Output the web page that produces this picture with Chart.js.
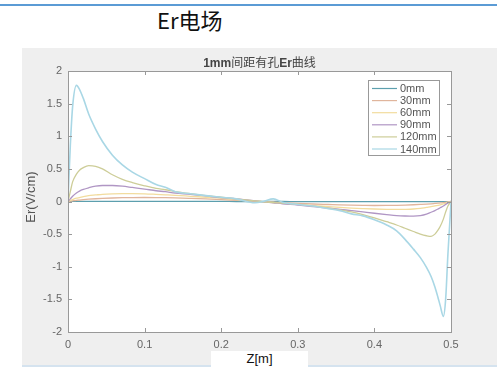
<!DOCTYPE html>
<html>
<head>
<meta charset="utf-8">
<script src="https://cdn.jsdelivr.net/npm/chart.js@4.4.0/dist/chart.umd.min.js"></script>
<style>
  body { margin: 0; width: 497px; height: 367px; background: #fff; position: relative; overflow: hidden; }
  #topline { position: absolute; left: 0; top: 4px; width: 497px; height: 2px; background: #5b9bd5; }
  #heading { position: absolute; left: 157px; top: 5px; font: 22px "Noto Sans CJK SC", sans-serif; color: #111; line-height: 28px; }
  #figure { position: absolute; left: 22px; top: 48px; width: 475px; height: 317px; background: #efefef; }
  #bottomline { position: absolute; left: 22px; top: 365px; width: 475px; height: 2px; background: #d5e3ef; }
  #wrap { position: absolute; left: 0; top: 0; width: 497px; height: 367px; }
  #xlabel { position: absolute; left: 211px; top: 351px; width: 97px; height: 16px; background: #fff;
            font: 13px "Liberation Sans", sans-serif; text-align: center; line-height: 16px; color: #111; }
</style>
</head>
<body>
<div id="topline"></div>
<div id="heading">Er电场</div>
<div id="figure"></div>
<div id="bottomline"></div>
<div id="wrap"><canvas id="erChart" width="497" height="367"></canvas></div>
<div id="xlabel">Z[m]</div>

<script>
// sample positions along z (m)
const zPos = [0, 0.003, 0.006, 0.011, 0.015, 0.02, 0.027, 0.036, 0.045, 0.058,
  0.071, 0.084, 0.1, 0.115, 0.127, 0.14, 0.16, 0.18, 0.2, 0.22,
  0.244, 0.255, 0.268, 0.28, 0.3, 0.32, 0.34, 0.355, 0.37, 0.385,
  0.4, 0.416, 0.429, 0.44, 0.451, 0.46, 0.468, 0.474, 0.479, 0.483,
  0.486, 0.49, 0.493, 0.496, 0.5];

// Er (V/cm) for each hole offset
const er0 = [0, 0.002, 0.003, 0.003, 0.003, 0.003, 0.003, 0.003, 0.003, 0.003,
  0.003, 0.002, 0.002, 0.002, 0.002, 0.001, 0.001, 0.001, 0.001, 0,
  0, 0, 0, 0, -0.001, -0.001, -0.001, -0.001, -0.002, -0.002,
  -0.002, -0.002, -0.002, -0.003, -0.003, -0.003, -0.003, -0.003, -0.003, -0.003,
  -0.003, -0.003, -0.003, -0.002, 0];
const er30 = [0, 0.005, 0.01, 0.018, 0.022, 0.028, 0.035, 0.042, 0.048, 0.054,
  0.058, 0.06, 0.061, 0.06, 0.058, 0.055, 0.048, 0.04, 0.03, 0.018,
  0.004, -0.003, -0.01, -0.017, -0.028, -0.038, -0.046, -0.052, -0.056, -0.059,
  -0.061, -0.06, -0.058, -0.055, -0.05, -0.045, -0.04, -0.035, -0.03, -0.026,
  -0.022, -0.017, -0.012, -0.007, 0];
const er60 = [0, 0.015, 0.03, 0.05, 0.06, 0.075, 0.09, 0.1, 0.11, 0.118,
  0.122, 0.122, 0.118, 0.11, 0.103, 0.095, 0.08, 0.065, 0.05, 0.03,
  0.008, -0.004, -0.015, -0.028, -0.045, -0.062, -0.078, -0.09, -0.1, -0.108,
  -0.115, -0.12, -0.122, -0.12, -0.115, -0.105, -0.09, -0.08, -0.068, -0.058,
  -0.05, -0.038, -0.028, -0.015, 0];
const er90 = [0, 0.04, 0.08, 0.13, 0.16, 0.185, 0.21, 0.235, 0.245, 0.245,
  0.235, 0.215, 0.19, 0.165, 0.15, 0.13, 0.11, 0.085, 0.06, 0.04,
  0.01, -0.005, -0.02, -0.035, -0.055, -0.08, -0.1, -0.12, -0.14, -0.16,
  -0.18, -0.2, -0.215, -0.222, -0.225, -0.218, -0.195, -0.165, -0.14, -0.115,
  -0.095, -0.07, -0.045, -0.025, 0];
const er120 = [0, 0.15, 0.3, 0.42, 0.48, 0.52, 0.55, 0.54, 0.5, 0.41,
  0.34, 0.29, 0.24, 0.2, 0.18, 0.15, 0.12, 0.09, 0.065, 0.04,
  0.01, -0.005, -0.015, -0.025, -0.045, -0.07, -0.1, -0.13, -0.16, -0.2,
  -0.25, -0.31, -0.36, -0.41, -0.46, -0.5, -0.525, -0.535, -0.5, -0.44,
  -0.38, -0.27, -0.16, -0.07, 0];
const er140 = [0.02, 0.85, 1.45, 1.78, 1.72, 1.58, 1.34, 1.11, 0.92, 0.71,
  0.56, 0.45, 0.35, 0.26, 0.22, 0.15, 0.12, 0.09, 0.065, 0.04,
  -0.02, 0, 0.04, -0.01, -0.045, -0.07, -0.11, -0.14, -0.19, -0.22,
  -0.28, -0.36, -0.45, -0.58, -0.73, -0.86, -1.01, -1.15, -1.31, -1.47,
  -1.6, -1.76, -1.5, -0.8, -0.02];

const seriesNames = ['0mm', '30mm', '60mm', '90mm', '120mm', '140mm'];
const seriesValues = [er0, er30, er60, er90, er120, er140];
const seriesColors = ['#5c9fae', '#e0b59c', '#f2dc9e', '#b096c4', '#cdcd98', '#a9d7e5'];

const xTickLabels = ['0', '0.1', '0.2', '0.3', '0.4', '0.5'];
const yTickLabels = ['-2', '-1.5', '-1', '-0.5', '0', '0.5', '1', '1.5', '2'];

const labelFont = '"Liberation Sans", Arial, sans-serif';

// white plot area, box with inward ticks, title, y label and legend
const figureDecor = {
  id: 'figureDecor',
  beforeDraw(chart) {
    const a = chart.chartArea, ctx = chart.ctx;
    ctx.save();
    ctx.fillStyle = '#ffffff';
    ctx.fillRect(a.left, a.top, a.right - a.left, a.bottom - a.top);
    ctx.restore();
  },
  afterDatasetsDraw(chart) {
    const a = chart.chartArea, ctx = chart.ctx;
    const xs = chart.scales.x, ys = chart.scales.y;
    ctx.save();
    ctx.strokeStyle = '#999';
    ctx.lineWidth = 1;
    ctx.strokeRect(Math.round(a.left) + 0.5, Math.round(a.top) + 0.5,
      Math.round(a.right - a.left), Math.round(a.bottom - a.top));

    const tl = 4;
    ctx.beginPath();
    xs.ticks.forEach(t => {
      const px = Math.round(xs.getPixelForValue(t.value)) + 0.5;
      ctx.moveTo(px, a.bottom); ctx.lineTo(px, a.bottom - tl);
      ctx.moveTo(px, a.top); ctx.lineTo(px, a.top + tl);
    });
    ys.ticks.forEach(t => {
      const py = Math.round(ys.getPixelForValue(t.value)) + 0.5;
      ctx.moveTo(a.left, py); ctx.lineTo(a.left + tl, py);
      ctx.moveTo(a.right, py); ctx.lineTo(a.right - tl, py);
    });
    ctx.stroke();

    // title, mixed weights
    const parts = [['1mm', 'bold'], ['间距有孔', 'normal'], ['Er', 'bold'], ['曲线', 'normal']];
    ctx.fillStyle = '#444';
    ctx.textBaseline = 'middle';
    ctx.textAlign = 'left';
    let total = 0;
    parts.forEach(p => {
      ctx.font = p[1] + ' 12px ' + labelFont + ', "Noto Sans CJK SC"';
      total += ctx.measureText(p[0]).width;
    });
    let tx = (a.left + a.right) / 2 - total / 2;
    parts.forEach(p => {
      ctx.font = p[1] + ' 12px ' + labelFont + ', "Noto Sans CJK SC"';
      ctx.fillText(p[0], tx, 64);
      tx += ctx.measureText(p[0]).width;
    });

    // y axis label
    ctx.save();
    ctx.translate(31, 197);
    ctx.rotate(-Math.PI / 2);
    ctx.textAlign = 'center';
    ctx.fillStyle = '#555';
    ctx.font = '13px ' + labelFont;
    ctx.fillText('Er(V/cm)', 0, 0);
    ctx.restore();

    // legend
    const lx = 368, ly = 80, lw = 71, lh = 75;
    ctx.fillStyle = '#ffffff';
    ctx.fillRect(lx, ly, lw, lh);
    ctx.strokeStyle = '#999';
    ctx.strokeRect(lx + 0.5, ly + 0.5, lw, lh);
    ctx.font = '11px ' + labelFont;
    ctx.textAlign = 'left';
    chart.data.datasets.forEach((ds, i) => {
      const ry = 88.5 + i * 12.1;
      ctx.strokeStyle = ds.borderColor;
      ctx.lineWidth = 1.2;
      ctx.beginPath();
      ctx.moveTo(372, ry); ctx.lineTo(397, ry);
      ctx.stroke();
      ctx.fillStyle = '#555';
      ctx.fillText(ds.label, 400, ry + 0.5);
    });
    ctx.restore();
  }
};

const datasets = seriesNames.map((name, i) => ({
  label: name,
  data: zPos.map((z, k) => ({ x: z, y: seriesValues[i][k] })),
  borderColor: seriesColors[i],
  borderWidth: i === 5 ? 1.6 : 1.3,
  pointRadius: 0,
  fill: false,
  cubicInterpolationMode: 'monotone',
  order: 5 - i
}));

new Chart(document.getElementById('erChart'), {
  type: 'line',
  data: { datasets: datasets },
  options: {
    responsive: false,
    animation: false,
    layout: { padding: { left: 0, top: 71, right: 46, bottom: 0 } },
    plugins: { legend: { display: false }, title: { display: false }, tooltip: { enabled: false } },
    scales: {
      x: {
        type: 'linear', min: 0, max: 0.5,
        afterFit(s) { s.height = 35; },
        grid: { display: false, drawTicks: false },
        border: { display: false },
        ticks: {
          stepSize: 0.1, padding: 6, maxRotation: 0, color: '#666',
          font: { size: 11, family: labelFont },
          callback: (v, idx) => xTickLabels[idx]
        }
      },
      y: {
        min: -2, max: 2,
        afterFit(s) { s.width = 68; },
        grid: { display: false, drawTicks: false },
        border: { display: false },
        ticks: {
          stepSize: 0.5, padding: 6, color: '#666',
          font: { size: 11, family: labelFont },
          callback: (v, idx) => yTickLabels[idx]
        }
      }
    }
  },
  plugins: [figureDecor]
});
</script>
</body>
</html>
